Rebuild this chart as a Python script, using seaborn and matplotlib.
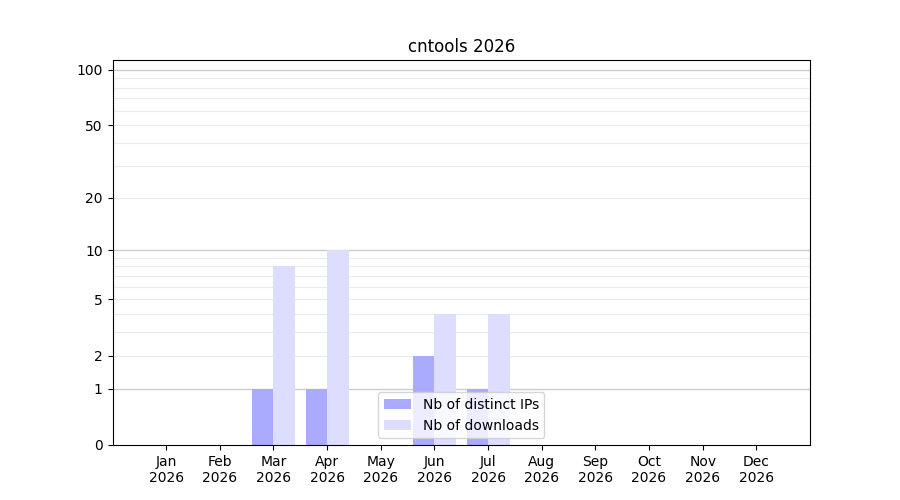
import numpy as np
import pandas as pd
import seaborn as sns
import matplotlib
matplotlib.use("Agg")
import matplotlib.pyplot as plt

# monthly stats
months = ["Jan", "Feb", "Mar", "Apr", "May", "Jun", "Jul", "Aug", "Sep", "Oct", "Nov", "Dec"]
year = "2026"
distinct_ips = [0, 0, 1, 1, 0, 2, 1, 0, 0, 0, 0, 0]
downloads = [0, 0, 8, 10, 0, 4, 4, 0, 0, 0, 0, 0]
series_names = ["Nb of distinct IPs", "Nb of downloads"]

labels = ["{0}\n{1}".format(m, year) for m in months]
df = pd.DataFrame({
    "month": labels * 2,
    "value": distinct_ips + downloads,
    "series": [series_names[0]] * len(months) + [series_names[1]] * len(months),
})


def fwd(y):
    return np.log10(np.clip(y, 0, None) + 1)


def inv(y):
    return 10 ** y - 1


fig, ax = plt.subplots(figsize=(9, 5), dpi=100)
ax.set_axisbelow(True)

# grid lines (log1p scale)
for v in [2, 3, 4, 5, 6, 7, 8, 9, 20, 30, 40, 50, 60, 70, 80, 90]:
    ax.axhline(v, color="#ebebeb", lw=0.8, zorder=0)
for v in [1, 10, 100]:
    ax.axhline(v, color="#cccccc", lw=1.0, zorder=0)

sns.barplot(data=df, x="month", y="value", hue="series", ax=ax,
            palette=["#aaaaff", "#ddddff"], width=0.8, saturation=1,
            errorbar=None, zorder=2)

ax.set_yscale("function", functions=(fwd, inv))
ax.set_ylim(0, 113)
ax.set_xlim(-1, 12)
ax.set_yticks([0, 1, 2, 5, 10, 20, 50, 100])
ax.set_yticklabels(["0", "1", "2", "5", "10", "20", "50", "100"])
ax.minorticks_off()
ax.set_xlabel("")
ax.set_ylabel("")
ax.set_title("cntools 2026")
ax.legend(loc="lower center")

plt.savefig("out.png", dpi=100)
plt.close()
